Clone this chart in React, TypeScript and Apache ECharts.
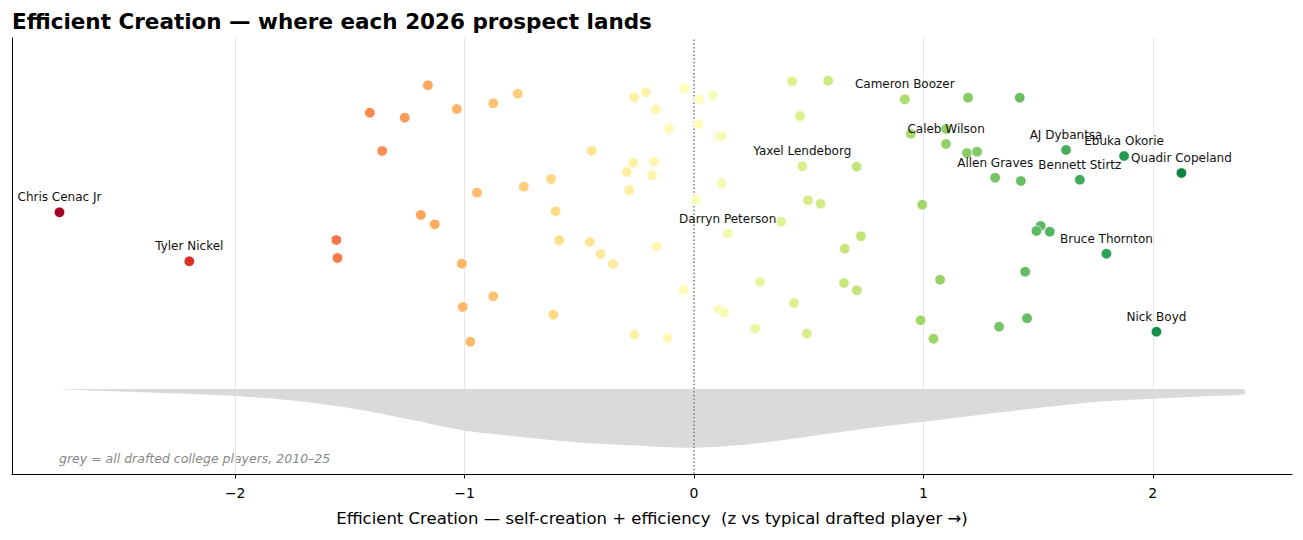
import React, { useEffect, useRef } from 'react';
import * as echarts from 'echarts';

// ---- data ----
const labeledNames = [
  'Chris Cenac Jr', 'Tyler Nickel', 'Darryn Peterson', 'Yaxel Lendeborg', 'Cameron Boozer',
  'Caleb Wilson', 'Allen Graves', 'AJ Dybantsa', 'Bennett Stirtz', 'Ebuka Okorie',
  'Quadir Copeland', 'Bruce Thornton', 'Nick Boyd',
];
const labeledScore = [-2.766, -2.2, 0.147, 0.472, 0.919, 1.099, 1.313, 1.622, 1.682, 1.875, 2.125, 1.798, 2.016];
const labeledJitter = [2.617, 2.127, 2.403, 3.077, 3.747, 3.3, 2.963, 3.24, 2.943, 3.18, 3.01, 2.203, 1.423];

const otherScore = [
  -1.559, -1.554, -1.16, -1.413, -1.261, -1.034, -0.875, -0.768, -0.261, -0.209,
  -0.166, -1.359, -0.446, -0.264, -0.174, -0.293, -0.183, -0.623, -0.742, -0.946,
  -0.282, -0.603, -1.191, -1.13, -0.588, -0.454, -0.407, -0.353, -0.163, -1.012,
  -0.875, -1.008, -0.613, -0.975, -0.26, -0.042, 0.023, 0.083, -0.109, 0.02,
  0.109, 0.122, 0.121, 0.009, 0.38, 0.428, 0.585, 0.462, 1.195, 0.946,
  1.099, 1.19, 1.234, 0.709, 0.497, 0.552, 0.995, 0.728, 0.657, 0.288,
  0.654, 0.71, 1.073, -0.045, 0.436, 0.109, 0.131, 0.267, 0.492, -0.116,
  0.988, 1.044, 1.42, 1.425, 1.511, 1.493, 1.551, 1.444, 1.452, 1.33,
];
const otherJitter = [
  2.34, 2.16, 3.887, 3.613, 3.563, 3.65, 3.707, 3.803, 3.767, 3.817,
  3.647, 3.23, 3.23, 3.113, 3.123, 3.02, 2.987, 2.95, 2.873, 2.813,
  2.837, 2.627, 2.59, 2.497, 2.337, 2.32, 2.2, 2.1, 2.273, 2.103,
  1.777, 1.67, 1.593, 1.323, 1.393, 3.853, 3.747, 3.787, 3.453, 3.5,
  3.377, 3.377, 2.907, 2.743, 2.523, 3.927, 3.933, 3.58, 3.763, 3.403,
  3.45, 3.21, 3.223, 3.073, 2.737, 2.703, 2.693, 2.377, 2.253, 1.92,
  1.91, 1.837, 1.943, 1.84, 1.71, 1.643, 1.617, 1.453, 1.403, 1.36,
  1.537, 1.353, 3.763, 2.93, 2.48, 2.43, 2.423, 2.023, 1.557, 1.473,
];

// density of all drafted college players (band hanging below a baseline)
const densityX = [-2.76, -2.5, -2.25, -2.0, -1.75, -1.5, -1.25, -1.0, -0.75, -0.5, -0.25, 0, 0.25, 0.5, 0.75, 1.0, 1.25, 1.5, 1.75, 2.0, 2.25, 2.4];
const densityDepth = [0.003, 0.025, 0.045, 0.07, 0.115, 0.19, 0.3, 0.415, 0.48, 0.535, 0.565, 0.587, 0.55, 0.475, 0.395, 0.327, 0.257, 0.19, 0.13, 0.098, 0.07, 0.053];
const densityBase = 0.85;

const xTicks = [-2, -1, 0, 1, 2];

// ---- colour map (RdYlGn, two-slope around 0, over the drafted range) ----
const RDYLGN = ['#a50026', '#d73027', '#f46d43', '#fdae61', '#fee08b', '#ffffbf', '#d9ef8b', '#a6d96a', '#66bd63', '#1a9850', '#006837'];
const vMin = densityX[0];
const vMax = densityX[densityX.length - 1];
function hexToRgb(h: string) {
  return [parseInt(h.slice(1, 3), 16), parseInt(h.slice(3, 5), 16), parseInt(h.slice(5, 7), 16)];
}
function cmap(t: number) {
  const tt = Math.max(0, Math.min(1, t)) * 10;
  const i = Math.min(9, Math.floor(tt));
  const f = tt - i;
  const a = hexToRgb(RDYLGN[i]);
  const b = hexToRgb(RDYLGN[i + 1]);
  const c = a.map((v, k) => Math.round(v + (b[k] - v) * f));
  return `rgb(${c[0]},${c[1]},${c[2]})`;
}
function scoreColor(v: number) {
  const t = v < 0 ? 0.5 * (v - vMin) / (0 - vMin) : 0.5 + 0.5 * v / vMax;
  return cmap(t);
}

const FONT = 'DejaVu Sans';

export default function App() {
  const ref = useRef<HTMLDivElement>(null);
  useEffect(() => {
    if (!ref.current) return;
    const chart = echarts.init(ref.current, undefined, { renderer: 'svg' });
    const option: any = {
      animation: false,
      textStyle: { fontFamily: FONT },
      title: {
        text: 'Efficient Creation — where each 2026 prospect lands',
        left: 7,
        top: 5,
        textStyle: { fontSize: 21.5, fontWeight: 'bold', color: '#000', fontFamily: FONT },
      },
      grid: { left: 12, right: 11, top: 38, bottom: 66, containLabel: false },
      xAxis: {
        type: 'value',
        min: -2.973,
        max: 2.607,
        axisLine: { show: true, onZero: false, lineStyle: { color: '#000', width: 1 } },
        axisTick: { show: true, length: 4.5, customValues: xTicks, lineStyle: { color: '#000', width: 1 } },
        axisLabel: {
          customValues: xTicks,
          formatter: (v: number) => (v < 0 ? '\u2212' + Math.abs(v) : String(v)),
          fontSize: 14,
          color: '#000',
          margin: 12,
          fontFamily: FONT,
        },
        splitLine: { show: false },
        name: 'Efficient Creation — self-creation + efficiency  (z vs typical drafted player →)',
        nameLocation: 'middle',
        nameGap: 36,
        nameTextStyle: { fontSize: 16.5, color: '#000', fontFamily: FONT },
      },
      yAxis: {
        type: 'value',
        min: 0,
        max: 4.36,
        axisLine: { show: true, onZero: false, lineStyle: { color: '#000', width: 1 } },
        axisTick: { show: false },
        axisLabel: { show: false },
        splitLine: { show: false },
      },
      graphic: [
        {
          type: 'text',
          left: 59,
          top: 452,
          silent: true,
          style: {
            text: 'grey = all drafted college players, 2010–25',
            fontSize: 12.5,
            fontStyle: 'italic',
            fontFamily: FONT,
            fill: '#888888',
          },
        },
      ],
      series: [
        {
          type: 'custom',
          name: 'density',
          z: 1,
          silent: true,
          data: densityX.map((x, i) => [x, densityBase - densityDepth[i]]),
          encode: { x: 0, y: 1 },
          renderItem: (params: any, api: any) => {
            if (params.dataIndex !== 0) return null;
            const n = densityX.length;
            const lower = densityX.map((x, i) => api.coord([x, densityBase - densityDepth[i]]));
            const pts = [api.coord([densityX[0], densityBase]), ...lower, api.coord([densityX[n - 1], densityBase])];
            return {
              type: 'polyline',
              shape: { points: pts, smooth: 0.3 },
              style: { fill: '#dadada', stroke: null, lineWidth: 0 },
            };
          },
          markLine: {
            silent: true,
            symbol: 'none',
            z: 0,
            label: { show: false },
            lineStyle: { color: '#e6e6e6', width: 1, type: 'solid' },
            data: xTicks.filter((t) => t !== 0).map((t) => ({ xAxis: t })),
          },
        },
        {
          type: 'scatter',
          name: 'zero',
          z: 2,
          silent: true,
          data: [],
          markLine: {
            silent: true,
            symbol: 'none',
            z: 2,
            label: { show: false },
            lineStyle: { color: '#7a7a7a', width: 1.5, type: [1.5, 2.2] },
            data: [{ xAxis: 0 }],
          },
        },
        {
          type: 'scatter',
          name: 'prospects',
          z: 3,
          symbolSize: 10.5,
          data: otherScore.map((x, i) => [x, otherJitter[i]]),
          itemStyle: {
            color: (p: any) => scoreColor(p.value[0]),
            borderColor: '#ffffff',
            borderWidth: 0.7,
            opacity: 1,
          },
        },
        {
          type: 'scatter',
          name: 'labeled',
          z: 4,
          symbolSize: 10.5,
          data: labeledScore.map((x, i) => ({ value: [x, labeledJitter[i]], name: labeledNames[i] })),
          itemStyle: {
            color: (p: any) => scoreColor(p.value[0]),
            borderColor: '#ffffff',
            borderWidth: 0.7,
            opacity: 1,
          },
          label: {
            show: true,
            position: 'top',
            distance: 3.5,
            formatter: '{b}',
            fontSize: 12,
            color: '#111111',
            fontFamily: FONT,
          },
        },
      ],
    };
    chart.setOption(option);
    return () => chart.dispose();
  }, []);
  return (
    <div
      ref={ref}
      style={{ position: 'fixed', left: 0, top: 0, width: 1303, height: 540, background: '#fff' }}
    />
  );
}
